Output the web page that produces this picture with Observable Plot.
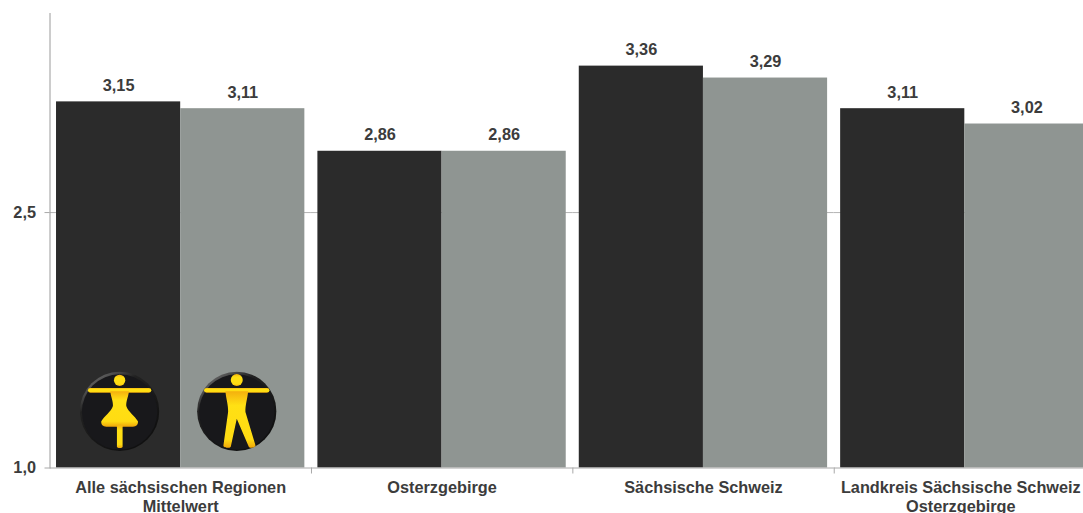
<!DOCTYPE html>
<html lang="de">
<head>
<meta charset="utf-8">
<script src="https://cdn.jsdelivr.net/npm/d3@7"></script>
<script src="https://cdn.jsdelivr.net/npm/@observablehq/plot@0.6"></script>
<style>
  html, body { margin: 0; padding: 0; background: #fff; overflow: hidden; }
  #chart { width: 1083px; height: 513px; overflow: hidden; }
</style>
</head>
<body>
<div id="chart"></div>
<script>
// Mean ratings per region, split into women and men
const regions = [
  "Alle sächsischen Regionen\nMittelwert",
  "Osterzgebirge",
  "Sächsische Schweiz",
  "Landkreis Sächsische Schweiz\nOsterzgebirge"
];
const genders = ["Frauen", "Männer"];
const women = [3.15, 2.86, 3.36, 3.11];
const men = [3.11, 2.86, 3.29, 3.02];
const yTicks = [1, 2.5];
const colors = ["#2b2b2b", "#8f9592"];

const rows = regions.flatMap((region, i) => [
  {region, gender: genders[0], value: women[i]},
  {region, gender: genders[1], value: men[i]}
]);

const comma = (v, digits) => v.toFixed(digits).replace(".", ",");

// Round badges with the pictograms that mark the two bar colours
const badge = (figure) => {
  const svg = `<svg xmlns="http://www.w3.org/2000/svg" viewBox="0 0 240 240">
    <defs>
      <linearGradient id="g" x1="0" y1="0" x2="0" y2="1"><stop offset="0" stop-color="#f4b00e"/><stop offset="0.25" stop-color="#ffe014"/><stop offset="0.85" stop-color="#ffdc12"/><stop offset="1" stop-color="#efa60a"/></linearGradient>
      <linearGradient id="r" x1="0" y1="0" x2="0.6" y2="0.9"><stop offset="0" stop-color="#8b8b8b"/><stop offset="0.4" stop-color="#222"/><stop offset="1" stop-color="#111"/></linearGradient>
    </defs>
    <circle cx="120" cy="120" r="119" fill="url(#r)"/>
    <circle cx="120" cy="122" r="113" fill="#18181b"/>
    <g fill="url(#g)">${figure}</g>
  </svg>`;
  return "data:image/svg+xml," + encodeURIComponent(svg);
};
const femaleFigure = `<circle cx="120" cy="27" r="17"/>
  <rect x="25" y="50" width="190" height="14" rx="7"/>
  <path d="M92 60H148C146 78 139 90 140 104C146 122 166 134 175 150C176 160 170 166 160 166H80C70 166 64 160 65 150C74 134 94 122 100 104C101 90 94 78 92 60Z"/>
  <rect x="112" y="160" width="17" height="70" rx="5"/>`;
const maleFigure = `<circle cx="120" cy="26" r="18"/>
  <rect x="22" y="50" width="196" height="14" rx="7"/>
  <path d="M86 60H154C152 84 145 102 146 122L176 222C177 230 160 232 156 226L120 142L102 226C98 232 78 230 80 222L94 122C95 102 88 84 86 60Z"/>`;
const badgeLevel = 1.333;

const textColor = "#3c3c3c";
const font = {fontFamily: "'Liberation Sans', Arial, sans-serif", fontSize: 16.3, fontWeight: "bold"};
const regionAxis = {
  anchor: "bottom", tickSize: 0, tickPadding: 11.5, lineHeight: 1.166,
  color: textColor, label: null, ...font
};

const chart = Plot.plot({
  width: 1095,
  height: 513,
  marginTop: 13,
  marginBottom: 45.5,
  marginLeft: 49.5,
  marginRight: 0,
  style: {maxWidth: "none", background: "#fff"},
  fx: {domain: regions, padding: 0, round: false},
  x: {domain: genders, axis: null, paddingInner: 0, paddingOuter: 0.0525, round: false},
  y: {domain: [1, 3.669]},
  color: {domain: genders, range: colors},
  marks: [
    // Repeated in every group, so the lines join up across the full width
    Plot.ruleY([2.5], {stroke: "#b4b4b4", strokeWidth: 1}),
    Plot.barY(rows, {fx: "region", x: "gender", y1: 1, y2: "value", fill: "gender"}),
    Plot.text(rows, {
      fx: "region", x: "gender", y: "value",
      text: (d) => comma(d.value, 2),
      lineAnchor: "bottom", dy: -11, fill: textColor, ...font
    }),
    // Each badge sits inside its own bar of the first group
    Plot.image([badge(femaleFigure)], {
      fx: () => regions[0], x: () => genders[0], y: () => badgeLevel,
      src: (d) => d, width: 80, height: 80, dx: 1
    }),
    Plot.image([badge(maleFigure)], {
      fx: () => regions[0], x: () => genders[1], y: () => badgeLevel,
      src: (d) => d, width: 80, height: 80, dx: -6
    }),
    // Separators between the region groups, dropped below the baseline
    Plot.ruleX(regions.slice(1), {
      fx: (d) => d, x: () => genders[0], y1: 1, y2: 1,
      dx: -68.5, insetBottom: -6, stroke: "#a8a8a8"
    }),
    Plot.ruleY([1], {stroke: "#a8a8a8", strokeWidth: 1}),
    Plot.frame({anchor: "left", facet: "super", stroke: "#9a9a9a"}),
    Plot.axisY({
      ticks: yTicks, tickFormat: (d) => comma(d, 1), tickSize: 5, tickPadding: 9,
      stroke: "#a8a8a8", color: textColor, label: null, ...font
    }),
    Plot.axisFx({...regionAxis, ticks: regions.slice(0, 3)}),
    // The last label runs close to the right edge, so it is nudged inwards
    Plot.axisFx({...regionAxis, ticks: regions.slice(3), dx: -4})
  ]
});

document.getElementById("chart").append(chart);
</script>
</body>
</html>
